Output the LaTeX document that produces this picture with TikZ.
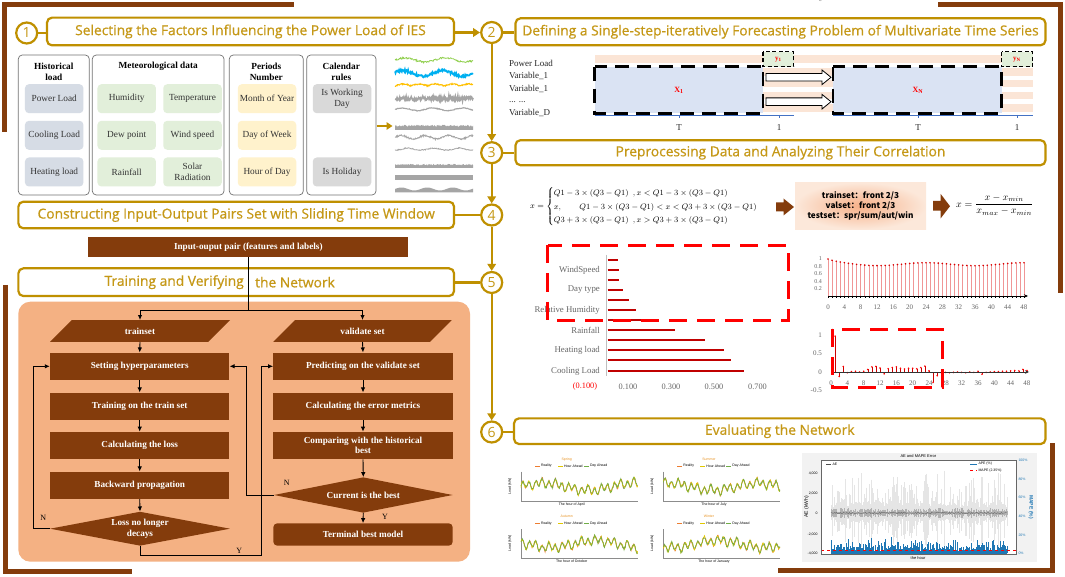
\documentclass[tikz,border=0pt]{standalone}
\usepackage{fontspec}
\usepackage{amsmath}
\setmainfont{Liberation Serif}
\newfontfamily\titlef[FakeBold=0.6]{Open Sans}
\newfontfamily\numf{Open Sans}
\newfontfamily\cjk{Noto Sans CJK SC}
\newfontfamily\sansf{Liberation Sans}
\usetikzlibrary{arrows.meta,calc,shapes.geometric}
\definecolor{gold}{RGB}{191,144,0}
\definecolor{goldt}{RGB}{197,152,22}
\definecolor{brownc}{RGB}{132,60,12}
\definecolor{peach}{RGB}{244,177,131}
\definecolor{lav}{RGB}{218,227,243}
\definecolor{stripe}{RGB}{251,229,214}
\definecolor{iblue}{RGB}{214,220,229}
\definecolor{igreen}{RGB}{226,239,218}
\definecolor{iyellow}{RGB}{255,242,204}
\definecolor{igray}{RGB}{217,217,217}
\definecolor{barred}{RGB}{192,0,0}
\definecolor{stemc}{RGB}{240,150,150}
\definecolor{apeblue}{RGB}{31,119,180}
\definecolor{pkin}{RGB}{246,176,136}
\definecolor{pkout}{RGB}{252,232,218}
\definecolor{sgreen}{RGB}{146,208,80}
\definecolor{sblue}{RGB}{0,176,240}
\definecolor{syellow}{RGB}{255,192,0}
\definecolor{sgray}{RGB}{165,165,165}
\definecolor{orng}{RGB}{237,125,49}
\definecolor{ylw}{RGB}{225,200,0}
\definecolor{grn}{RGB}{112,173,71}
\definecolor{axblue}{RGB}{68,114,196}
\begin{document}
\begin{tikzpicture}[x=1pt,y=-1pt,
 tbox/.style={draw=gold,line width=2.2pt,rounded corners=5pt,fill=white,inner sep=0pt,text=goldt,font=\titlef\fontsize{13.8}{15}\selectfont},
 numc/.style={circle,draw=gold,line width=2.2pt,fill=white,minimum size=21pt,inner sep=0pt,text=goldt,font=\numf\fontsize{14}{14}\selectfont},
 gl/.style={draw=gold,line width=2.2pt},
 ga/.style={draw=gold,line width=2.2pt,-{Triangle[length=7pt,width=8.5pt]}},
 cat/.style={draw=black!55,line width=0.7pt,rounded corners=4pt},
 item/.style={rounded corners=4pt,minimum width=58.5pt,minimum height=29pt,inner sep=1pt,align=center,text=black!80,font=\fontsize{9.3}{10.5}\selectfont},
 hdr/.style={align=center,inner sep=0pt,font=\bfseries\fontsize{9.3}{10.8}\selectfont},
 lab/.style={anchor=west,inner sep=0pt,text=black!85,font=\fontsize{9}{10}\selectfont},
 fb/.style={fill=brownc,text=white,minimum width=179.4pt,minimum height=27.3pt,inner sep=1pt,align=center,font=\bfseries\fontsize{9.2}{10.7}\selectfont},
 fa/.style={line width=0.9pt,-{Latex[length=5pt,width=4.5pt]}},
 fl/.style={line width=0.9pt},
 yn/.style={inner sep=0pt,font=\fontsize{8}{9}\selectfont},
 brk/.style={draw=brownc,line width=5pt},
 reddash/.style={draw=red,line width=3pt,dash pattern=on 18pt off 10pt},
 blkdash/.style={draw=black,line width=2.6pt,dash pattern=on 14pt off 8pt},
 smalldash/.style={draw=black,line width=1.2pt,dash pattern=on 4pt off 2.5pt},
 glab/.style={inner sep=0pt,text=black!60,font=\fontsize{8.8}{10}\selectfont},
 tinyt/.style={inner sep=0.3pt,font=\sansf\fontsize{3.5}{4}\selectfont},
 axl/.style={inner sep=0pt,text=black!60,font=\fontsize{7}{8}\selectfont}
]
\pgfmathsetseed{42}
\useasboundingbox (0,0) rectangle (1065,577);
\fill[white] (0,0) rectangle (1065,577);

% ---------- brown brackets
\draw[brk] (4.7,131.7) -- (4.7,5) -- (294,5);
\draw[brk] (5,285) -- (5,571.5) -- (132.3,571.5);
\draw[brk] (938,4.5) -- (1060,4.5) -- (1060,293);
\draw[brk] (1052,443) -- (1052,570.5) -- (778,570.5);

% ---------- title boxes and circles
\node[tbox,minimum width=407pt,minimum height=27.7pt] (b1) at (250.5,31.5) {Selecting the Factors Influencing the Power Load of IES};
\node[tbox,minimum width=530pt,minimum height=27pt] (b2) at (780.5,31.8) {Defining a Single-step-iteratively Forecasting Problem of Multivariate Time Series};
\node[tbox,minimum width=530pt,minimum height=25pt] (b3) at (780.5,152.7) {Preprocessing Data and Analyzing Their Correlation};
\node[tbox,minimum width=435.7pt,minimum height=26.6pt] (b4) at (236.2,215) {Constructing Input-Output Pairs Set with Sliding Time Window};
\node[tbox,minimum width=435.7pt,minimum height=27.7pt] (b5) at (236.2,282.2) {};
\node[tbox,minimum width=531.5pt,minimum height=25.7pt] (b6) at (779.8,431.2) {Evaluating the Network};

\node[numc] (c1) at (26.7,33) {1};
\node[numc] (c2) at (491.7,32.5) {2};
\node[numc] (c3) at (491.7,152.7) {3};
\node[numc] (c4) at (491.7,215) {4};
\node[numc] (c5) at (491.7,282.5) {5};
\node[numc] (c6) at (491.7,432) {6};

\draw[gl] (c1.east) -- (c1.east -| b1.west);
\draw[ga] (b1.east |- c2.west) -- (c2.west);
\draw[gl] (c2.east) -- (c2.east -| b2.west);
\draw[gl] (c3.east) -- (c3.east -| b3.west);
\draw[gl] (b4.east |- c4.west) -- (c4.west);
\draw[gl] (b5.east |- c5.west) -- (c5.west);
\draw[gl] (c6.east) -- (c6.east -| b6.west);
\draw[ga] (c2.south) -- (c3.north);
\draw[ga] (c3.south) -- (c4.north);
\draw[ga] (c4.south) -- (c5.north);
\draw[ga] (c5.south) -- (c6.north);

% ---------- panel 1
\draw[cat] (18.3,55) rectangle (89.3,195);
\draw[cat] (92.3,55) rectangle (224,195);
\draw[cat] (229.3,55) rectangle (303.3,195);
\draw[cat] (306.7,55) rectangle (376,195);
\node[hdr] (h1) at (53.8,71.7) {Historical\\load};
\node[hdr] (h2) at (158.2,66.7) {Meteorological data};
\node[hdr] (h3) at (266.3,71.7) {Periods\\Number};
\node[hdr] (h4) at (341.3,71.7) {Calendar\\rules};
\node[item,fill=iblue] (i11) at (54.2,98.7) {Power Load};
\node[item,fill=iblue] (i12) at (54.2,135.3) {Cooling Load};
\node[item,fill=iblue] (i13) at (54.2,172) {Heating load};
\node[item,fill=igreen] (i21) at (126.7,98.7) {Humidity};
\node[item,fill=igreen] (i22) at (126.7,135.3) {Dew point};
\node[item,fill=igreen] (i23) at (126.7,172) {Rainfall};
\node[item,fill=igreen] (i31) at (192.5,98.7) {Temperature};
\node[item,fill=igreen] (i32) at (192.5,135.3) {Wind speed};
\node[item,fill=igreen] (i33) at (192.5,172) {Solar\\Radiation};
\node[item,fill=iyellow] (i41) at (267,98.7) {Month of Year};
\node[item,fill=iyellow] (i42) at (267,135.3) {Day of Week};
\node[item,fill=iyellow] (i43) at (267,172) {Hour of Day};
\node[item,fill=igray] (i51) at (342,98.7) {Is Working\\Day};
\node[item,fill=igray] (i53) at (342,172) {Is Holiday};
\coordinate (sa) at (376.7,126);
\coordinate (sb) at (392.5,126);
\draw[draw=gold,line width=2.2pt,-{Triangle[length=6pt,width=7.5pt]}] (sa) -- (sb);
% series sketches
\draw[sgreen,line width=0.8pt] plot[domain=395:473,samples=130] (\x,{60-2*sin((\x-395)*9)+0.9*rand});
\draw[sblue,line width=1.8pt] plot[domain=395:473,samples=150] (\x,{73.3-2.8*sin((\x-395)*9+20)+1.2*rand});
\draw[syellow,line width=1.1pt] plot[domain=395:473,samples=150] (\x,{86-2*abs(sin((\x-395)*11))+0.6*rand});
\draw[sgray,line width=1.8pt] plot[domain=395:473,samples=150] (\x,{98.5+2.2*rand});
\draw[sgray,line width=1.1pt] plot[domain=395:473,samples=120] (\x,{109.3-1.3*sin((\x-395)*12)+0.4*rand});
\fill[sgray] (395,130) -- plot[domain=395:473,samples=150] (\x,{127-2.2*rnd}) -- (473,130) -- cycle;
\draw[sgray,line width=0.9pt] plot[domain=395:473,samples=150] (\x,{137.3-1.8*sin((\x-395)*15)+0.8*rand});
\draw[sgray,line width=0.8pt] plot[domain=395:473,samples=150] (\x,{150-2*abs(sin((\x-395)*7))^3+0.5*rand});
\fill[sgray] (395,168) -- plot[domain=395:473,samples=150] (\x,{165.5-1.6*rnd}) -- (473,168) -- cycle;
\fill[sgray] (395,175) rectangle (473,180);
\fill[sgray] (395,192.5) -- plot[domain=395:473,samples=60] (\x,{189-1.5*sin((\x-395)*14)}) -- (473,192.5) -- cycle;

% ---------- panel 2
\node[lab] (v0) at (509,63.3) {Power Load};
\node[lab] (v1) at (509,76) {Variable\_1};
\node[lab] (v2) at (509,89.3) {Variable\_1};
\node[lab] (v3) at (509,101.7) {... ...};
\node[lab] (v4) at (509,113.3) {Variable\_D};
\fill[stripe] (594.5,55) rectangle (1032.7,63.3);
\foreach \ya/\yb in {68.3/76,80/87.3,91.7/99.3,104.3/112.3}{
  \fill[stripe] (594.5,\ya) rectangle (1032.7,\yb);
}
\fill[lav] (594.5,66.7) rectangle (763,113.3);
\fill[lav] (833,66.7) rectangle (1001.5,113.3);
\fill[igreen] (763,51.7) rectangle (793.6,66.7);
\fill[igreen] (1001.5,51.7) rectangle (1032.7,66.7);
\draw[axblue,line width=0.8pt] (594.5,115) -- (793.6,115);
\draw[axblue,line width=0.8pt] (833,115) -- (1032.7,115);
\foreach \tx in {679,779,918,1017}{ \draw[axblue,line width=0.7pt] (\tx,115) -- (\tx,118); }
\draw[blkdash] (594.5,66.7) rectangle (763,113.3);
\draw[blkdash] (833,66.7) rectangle (1001.5,113.3);
\draw[smalldash] (763,51.7) rectangle (793.6,66.7);
\draw[smalldash] (1001.5,51.7) rectangle (1032.7,66.7);
\node[text=red,inner sep=0pt,font=\bfseries\fontsize{8}{9}\selectfont] (x1l) at (679,90) {X\textsubscript{1}};
\node[text=red,inner sep=0pt,font=\bfseries\fontsize{8}{9}\selectfont] (xnl) at (918,90) {X\textsubscript{N}};
\node[text=red,inner sep=0pt,font=\bfseries\fontsize{7}{8}\selectfont] (y1l) at (778.3,59.2) {y\textsubscript{1}};
\node[text=red,inner sep=0pt,font=\bfseries\fontsize{7}{8}\selectfont] (ynl) at (1017,59.2) {y\textsubscript{N}};
\node[lab,anchor=center] (tT1) at (679,127.3) {T};
\node[lab,anchor=center] (t11) at (779,127.3) {1};
\node[lab,anchor=center] (tT2) at (918,127.3) {T};
\node[lab,anchor=center] (t12) at (1017,127.3) {1};
\foreach \yc [count=\n] in {77.3,101.7}{
  \filldraw[fill=white,draw=black,line width=0.8pt] (766,\yc-3.8) -- (822,\yc-3.8) -- (822,\yc-7.3) -- (831,\yc) -- (822,\yc+7.3) -- (822,\yc+3.8) -- (766,\yc+3.8) -- cycle;
}

% ---------- panel 3
\node[anchor=west,inner sep=0pt,font=\fontsize{8.5}{10.5}\selectfont] (f1) at (530,206.5) {$x=\begin{cases} Q1-3\times(Q3-Q1)\ \ ,x<Q1-3\times(Q3-Q1)\\[1pt] x,\qquad Q1-3\times(Q3-Q1)<x<Q3+3\times(Q3-Q1)\\[1pt] Q3+3\times(Q3-Q1)\ \ ,x>Q3+3\times(Q3-Q1)\end{cases}$};
\fill[brownc] (776,202.5) -- (783.5,202.5) -- (783.5,198.5) -- (794,207) -- (783.5,215.5) -- (783.5,211.5) -- (776,211.5) -- cycle;
\node[shade,shading=radial,inner color=pkin,outer color=pkout,minimum width=131pt,minimum height=46.6pt,inner sep=0pt,align=center,font=\cjk\bfseries\fontsize{8.2}{10}\selectfont] (pb) at (860.5,206) {trainset：front 2/3\\valset：front 2/3\\testset：spr/sum/aut/win};
\fill[brownc] (933,201) -- (940.7,201) -- (940.7,194) -- (950,206.2) -- (940.7,218.3) -- (940.7,210.7) -- (933,210.7) -- cycle;
\node[anchor=west,inner sep=0pt,font=\fontsize{10}{12}\selectfont] (f2) at (956,205) {$x=\dfrac{x-x_{min}}{x_{max}-x_{min}}$};

% bar chart
\draw[black!25,line width=0.6pt] (606.7,255) -- (606.7,376);
\foreach \yy/\xx in {260/618,270/619,280/619,290/623,300/629,310/636,320/650,330/675,340/705,350/724,360/731,371/744}{
  \draw[barred,line width=2.6pt] (607.5,\yy) -- (\xx,\yy);
}
\node[glab,anchor=east] (bl1) at (600,270) {WindSpeed};
\node[glab,anchor=east] (bl2) at (600,290) {Day type};
\node[glab,anchor=east] (bl3) at (600,310) {Relative Humidity};
\node[glab,anchor=east] (bl4) at (600,330) {Rainfall};
\node[glab,anchor=east] (bl5) at (600,350) {Heating load};
\node[glab,anchor=east] (bl6) at (600,371) {Cooling Load};
\node[glab,text=red,font=\fontsize{8.3}{9}\selectfont] (bx0) at (585,387) {(0.100)};
\node[glab,font=\fontsize{8.3}{9}\selectfont] (bx1) at (628,387) {0.100};
\node[glab,font=\fontsize{8.3}{9}\selectfont] (bx2) at (671,387) {0.300};
\node[glab,font=\fontsize{8.3}{9}\selectfont] (bx3) at (714,387) {0.500};
\node[glab,font=\fontsize{8.3}{9}\selectfont] (bx4) at (757.5,387) {0.700};
\draw[reddash] (547.5,245.5) rectangle (788,320);

% ACF
\foreach \k in {0,...,48}{
  \pgfmathsetmacro\v{0.86+0.04*cos(15*\k)+0.1*exp(-\k/2.5)}
  \draw[stemc,line width=0.6pt] ({828+4.083*\k},296) -- ({828+4.083*\k},{296-37*\v});
  \fill[red!85!black] ({828+4.083*\k},{296-37*\v}) circle (0.9pt);
  \draw[black,line width=0.4pt] ({828+4.083*\k},296) -- ({828+4.083*\k},297.8);
}
\coordinate (acf0) at (828,296);
\coordinate (acf1) at (1028,296);
\draw[black,line width=0.9pt,-{Stealth[length=4pt,width=3.5pt]}] (acf0) -- (acf1);
\foreach \t in {0,4,...,48}{ \node[axl] (ax\t) at ({828+4.083*\t},307) {\t}; }
\foreach \yl/\yv in {0/0,0.2/288.6,0.4/281.2,0.6/273.8,0.8/266.4,1/259}{
  \node[axl,anchor=east,font=\fontsize{6}{6}\selectfont] (ay\yv) at (822,\yv) {\yl};
}
% PACF
\foreach \k/\v in {1/0.97,2/-0.12,3/0.15,4/-0.02,5/0.01,6/0.02,7/0.0,8/0.02,9/0.07,10/0.14,11/0.15,12/0.11,13/-0.05,14/0.09,15/0.12,16/0.14,17/0.1,18/0.08,19/0.1,20/0.1,21/0.09,22/0.12,23/0.16,24/0.03,25/-0.28,26/-0.1,27/-0.02,28/-0.01,29/-0.02,30/-0.01,31/0.0,32/-0.01,33/-0.02,34/0.0,35/-0.01,36/0.02,37/-0.06,38/-0.01,39/0.0,40/0.01,41/0.01,42/0.02,43/0.02,44/0.03,45/0.04,46/0.03,47/0.07,48/0.04}{
  \draw[red!80!black,line width=0.5pt] ({831+4.083*\k},372) -- ({831+4.083*\k},{372-37*\v});
  \fill[red] ({831+4.083*\k},{372-37*\v}) circle (0.9pt);
}
\coordinate (pacf0) at (831,372);
\coordinate (pacf1) at (1029,372);
\draw[black!80,line width=0.9pt,-{Stealth[length=4pt,width=3.5pt]}] (pacf0) -- (pacf1);
\foreach \t in {0,4,...,48}{ \node[axl] (px\t) at ({831+4.083*\t},383) {\t}; }
\node[axl,anchor=east] (py1) at (822,335) {1};
\node[axl,anchor=east] (py2) at (822,353) {0.5};
\node[axl,anchor=east] (py3) at (822,372) {0};
\node[axl,anchor=east] (py4) at (822,390) {-0.5};
\draw[reddash] (832,329) rectangle (942,387);

% ---------- panel 4/5 flowchart
\node[fill=brownc,text=white,minimum width=320pt,minimum height=20.6pt,inner sep=0pt,font=\bfseries\fontsize{9.2}{10}\selectfont] (inp) at (248.3,247) {Input-ouput pair (features and labels)};
\node[inner sep=0pt,anchor=east,text=goldt,font=\titlef\fontsize{13.8}{15}\selectfont] (t5a) at (244,282.2) {Training and Verifying};
\node[inner sep=0pt,anchor=west,text=goldt,font=\titlef\fontsize{13.8}{15}\selectfont] (t5b) at (255,282.2) {the Network};
\fill[peach,rounded corners=12pt] (18.3,301.7) rectangle (470,561.7);
\fill[brownc] (50,341.8) -- (71.7,320.2) -- (230,320.2) -- (208.3,341.8) -- cycle;
\fill[brownc] (273.3,341.8) -- (295,320.2) -- (451.7,320.2) -- (430,341.8) -- cycle;
\node[text=white,minimum width=100pt,minimum height=21.6pt,inner sep=0pt,font=\bfseries\fontsize{9.2}{10.5}\selectfont] (ts) at (140,331) {trainset};
\node[text=white,minimum width=100pt,minimum height=21.6pt,inner sep=0pt,font=\bfseries\fontsize{9.2}{10.5}\selectfont] (vs) at (362.5,331) {validate set};
\coordinate (j0) at (248.3,310);
\coordinate (jl) at (140,310);
\coordinate (jr) at (362.5,310);
\draw[fl] (inp.south) -- (j0);
\draw[fl] (jl) -- (jr);
\draw[fa] (jl) -- (ts.north);
\draw[fa] (jr) -- (vs.north);

\node[fb] (set) at (139.7,366.3) {Setting hyperparameters};
\node[fb] (trn) at (139.7,406.3) {Training on the train set};
\node[fb] (cl) at (139.7,445.5) {Calculating the loss};
\node[fb] (bp) at (139.7,485.3) {Backward propagation};
\node[diamond,fill=brownc,text=white,aspect=5,minimum width=180pt,minimum height=34pt,inner sep=0pt,align=center,font=\bfseries\fontsize{9.2}{10.7}\selectfont] (d1) at (140,528.7) {Loss no longer\\decays};
\node[fb] (pr) at (363,366.3) {Predicting on the validate set};
\node[fb] (ce) at (363,406.3) {Calculating the error metrics};
\node[fb] (cmp) at (363,445.5) {Comparing with the historical\\best};
\node[diamond,fill=brownc,text=white,aspect=5,minimum width=178.7pt,minimum height=35.4pt,inner sep=0pt,align=center,font=\bfseries\fontsize{9.2}{10.7}\selectfont] (d2) at (363.3,495) {Current is the best};
\node[fb,rounded corners=4pt,minimum height=22.4pt] (term) at (363,534.5) {Terminal best model};

\draw[fa] (ts.south) -- (set.north);
\draw[fa] (set.south) -- (trn.north);
\draw[fa] (trn.south) -- (cl.north);
\draw[fa] (cl.south) -- (bp.north);
\draw[fa] (bp.south) -- (d1.north);
\draw[fa] (vs.south) -- (pr.north);
\draw[fa] (pr.south) -- (ce.north);
\draw[fa] (ce.south) -- (cmp.north);
\draw[fa] (cmp.south) -- (d2.north);
\draw[fa] (d2.south) -- (term.north);
\draw[fa] (d1.west) -- ++(-16.7,0) |- (set.west);
\draw[fa] (d2.west) -- ++(-27.3,0) |- (set.east);
\draw[fa] (d1.south) -- ++(0,10) -| ($(pr.west)+(-11.6,0)$) -- (pr.west);
\node[yn] (nN1) at (43.3,518.3) {N};
\node[yn] (nY1) at (239.3,550.7) {Y};
\node[yn] (nN2) at (286.7,483.3) {N};
\node[yn] (nY2) at (385,517.3) {Y};

% ---------- panel 6: seasonal charts
\foreach \cx/\cy/\nm/\mon/\ph [count=\n] in {521/471.7/Spring/April/0,663.3/471.7/Summer/July/70,521/529/Autumn/October/150,663.3/529/Winter/January/230}{
  \draw[black!45,line width=0.4pt] (\cx,\cy) -- (\cx,\cy+29) -- (\cx+116.7,\cy+29);
  \foreach \col in {orng,ylw,grn}{
    \draw[\col,line width=0.6pt] plot[domain=0:116.7,samples=180] ({\cx+\x},{\cy+15-3.5*sin(\x*55)-1.8*sin(\x*23+\ph)-3.5*sin(\x*4+\ph)+1.4*rand});
  }
  \node[tinyt,text=orng!70!ylw] (st\n) at (\cx+45.7,\cy-12.4) {\nm};
  \draw[orng,line width=0.5pt] (\cx+14,\cy-5.7) -- (\cx+19,\cy-5.7);
  \node[tinyt,anchor=west] (sl1\n) at (\cx+19.5,\cy-5.7) {Reality};
  \draw[ylw,line width=0.5pt] (\cx+37,\cy-5.7) -- (\cx+42,\cy-5.7);
  \node[tinyt,anchor=west] (sl2\n) at (\cx+42.5,\cy-5.7) {Hour Ahead};
  \draw[grn,line width=0.5pt] (\cx+63,\cy-5.7) -- (\cx+68,\cy-5.7);
  \node[tinyt,anchor=west] (sl3\n) at (\cx+68.5,\cy-5.7) {Day Ahead};
  \node[tinyt] (sx\n) at (\cx+50.7,\cy+32.5) {The hour of \mon};
  \node[tinyt,rotate=90] (sy\n) at (\cx-11,\cy+14.5) {Load (kW)};
}

% AE chart
\fill[black!5] (802,453) rectangle (1037,562);
\fill[white] (821,460) rectangle (1015.7,554);
\foreach \i in {0,...,560}{
  \pgfmathsetmacro\xx{831+\i*0.3137}
  \pgfmathsetmacro\hh{2+8*rnd+34*rnd^7}
  \draw[black!10,line width=0.3pt] (\xx,{513-\hh}) -- (\xx,{513+0.85*\hh});
}
\foreach \i in {0,...,300}{
  \pgfmathsetmacro\xx{831+\i*0.5857}
  \pgfmathsetmacro\hh{1+4*rnd^2}
  \draw[black!30,line width=0.3pt] (\xx,{513-\hh}) -- (\xx,{513+\hh});
}
\draw[black!55,line width=0.5pt] plot[domain=831:1006.7,samples=200] (\x,{513+0.8*rand});
\foreach \i in {0,...,260}{
  \pgfmathsetmacro\xx{831+\i*0.676}
  \pgfmathsetmacro\bb{2+5*rnd+9*rnd^4}
  \draw[apeblue,line width=0.4pt] (\xx,553) -- (\xx,{553-\bb});
}
\fill[apeblue] (831,550.5) rectangle (1006.7,553.5);
\draw[red,line width=0.6pt,dashed] (821,550.7) -- (1015.7,550.7);
\draw[black!60,line width=0.4pt] (821,460) rectangle (1015.7,554);
\node[tinyt,font=\sansf\fontsize{4}{5}\selectfont] (aet) at (918.3,456.5) {AE and MAPE Error};
\node[tinyt,font=\sansf\fontsize{4}{5}\selectfont] (aex) at (918,558) {the hour};
\node[tinyt,rotate=90,font=\sansf\fontsize{5}{6}\selectfont] (aey) at (806.5,507) {AE (kWh)};
\node[tinyt,rotate=-90,text=apeblue,font=\sansf\bfseries\fontsize{5}{6}\selectfont] (aey2) at (1031,507) {MAPE (\%)};
\foreach \yl/\yv in {4{,}000/473.3,2{,}000/493.3,0/513.3,-2{,}000/534,-4{,}000/553.3}{
  \node[tinyt,anchor=east] (ael\yv) at (818,\yv) {\yl};
}
\foreach \yl/\yv in {100/460,80/479,60/497.7,40/516,20/535,0/553.3}{
  \node[tinyt,anchor=west,text=apeblue] (aer\yv) at (1018,\yv) {\yl\%};
}
\fill[black!70] (826,463.5) rectangle (831,465);
\node[tinyt,anchor=west] (lae) at (832,464.3) {AE};
\draw[apeblue,line width=0.5pt] (970,464) -- (977,464);
\node[tinyt,anchor=west] (lape) at (978,464) {APE (\%)};
\draw[red,line width=0.5pt,dashed] (970,470.7) -- (977,470.7);
\node[tinyt,anchor=west] (lmape) at (978,470.7) {MAPE (2.35\%)};

\end{tikzpicture}
\end{document}
